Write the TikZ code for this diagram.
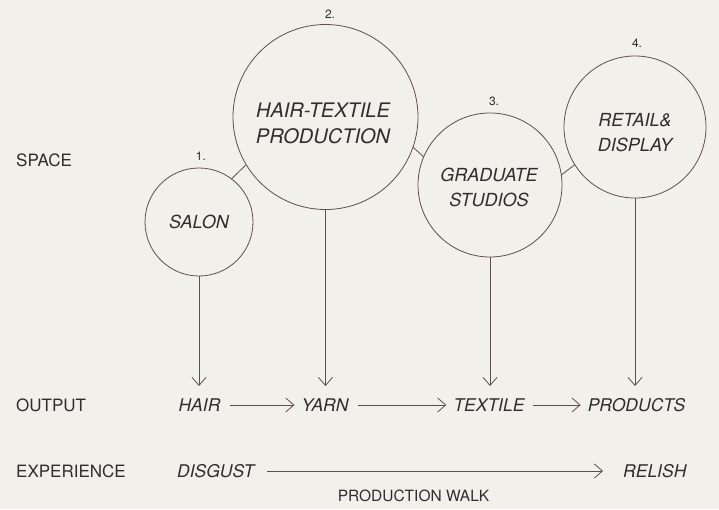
\documentclass[tikz,border=0pt]{standalone}
\usepackage{fontspec}
\setmainfont{TeX Gyre Heros}
\usetikzlibrary{arrows.meta}
\definecolor{paper}{HTML}{F2F0EB}
\definecolor{ink}{HTML}{2E2E2E}
\definecolor{linec}{HTML}{5E4F49}
\begin{document}
\begin{tikzpicture}[x=1pt,y=-1pt,
  circ/.style={circle, draw=linec, line width=0.8pt, inner sep=0pt, outer sep=0pt},
  intext/.style={text=ink, inner sep=0pt, align=center, font=\fontsize{18}{25}\selectfont\itshape},
  lab/.style={text=ink, inner sep=0pt, anchor=west, font=\fontsize{17}{20}\selectfont},
  item/.style={text=ink, inner sep=0pt, font=\fontsize{17.5}{20}\selectfont\itshape},
  num/.style={text=ink, inner sep=0pt, font=\fontsize{12}{14}\selectfont},
  arr/.style={draw=linec, line width=0.8pt, -{Straight Barb[length=8pt,width=14pt]}},
  link/.style={draw=linec, line width=0.8pt}]
\fill[paper] (0,0) rectangle (719,509);
\useasboundingbox (0,0) rectangle (719,509);

% circles
\node[circ, minimum size=108pt] (c1) at (199,222) {};
\node[circ, minimum size=185pt] (c2) at (325.5,117) {};
\node[circ, minimum size=144pt] (c3) at (490,185) {};
\node[circ, minimum size=142pt] (c4) at (635,127) {};

% circle texts
\node[intext] (t1) at (199,222) {SALON};
\node[intext, font=\fontsize{20}{26}\selectfont\itshape] (t2) at (323,123) {HAIR-TEXTILE\\PRODUCTION};
\node[intext] (t3) at (489,187) {GRADUATE\\STUDIOS};
\node[intext] (t4) at (635,133) {RETAIL\&\\DISPLAY};

% numbers
\node[num] (n1) at (201,156) {1.};
\node[num] (n2) at (330,14) {2.};
\node[num] (n3) at (494,101) {3.};
\node[num] (n4) at (637,43) {4.};

% links between circles
\draw[link] (c1.53) -- (c2.211);
\draw[link] (c2.-19) -- (c3.157);
\draw[link] (c3.8) -- (c4.212);

% row labels
\node[lab] (space) at (16,160) {SPACE};
\node[lab] (output) at (16,405) {OUTPUT};
\node[lab] (experience) at (16,471) {EXPERIENCE};

% output row
\node[item] (hair) at (199.5,405) {HAIR};
\node[item] (yarn) at (325,405) {YARN};
\node[item] (textile) at (489,405) {TEXTILE};
\node[item] (products) at (636.5,405) {PRODUCTS};

\coordinate (tipline) at (0,386);
\draw[arr] (c1.south) -- (c1.south |- tipline);
\draw[arr] (c2.south) -- (c2.south |- tipline);
\draw[arr] (c3.south) -- (c3.south |- tipline);
\draw[arr] (c4.south) -- (c4.south |- tipline);

\draw[arr] ([xshift=9pt]hair.east) -- ([xshift=-7pt]yarn.west);
\draw[arr] ([xshift=9pt]yarn.east) -- ([xshift=-7pt]textile.west);
\draw[arr] ([xshift=8pt]textile.east) -- ([xshift=-7pt]products.west);

% experience row
\node[item, anchor=west] (disgust) at (177,471) {DISGUST};
\node[item, anchor=west] (relish) at (623,471) {RELISH};
\draw[arr] ([xshift=13pt]disgust.east) -- ([xshift=-20pt]relish.west);

\node[text=ink, inner sep=0pt, font=\fontsize{15.5}{18}\selectfont] (walk) at (413.5,496) {PRODUCTION WALK};
\end{tikzpicture}
\end{document}
